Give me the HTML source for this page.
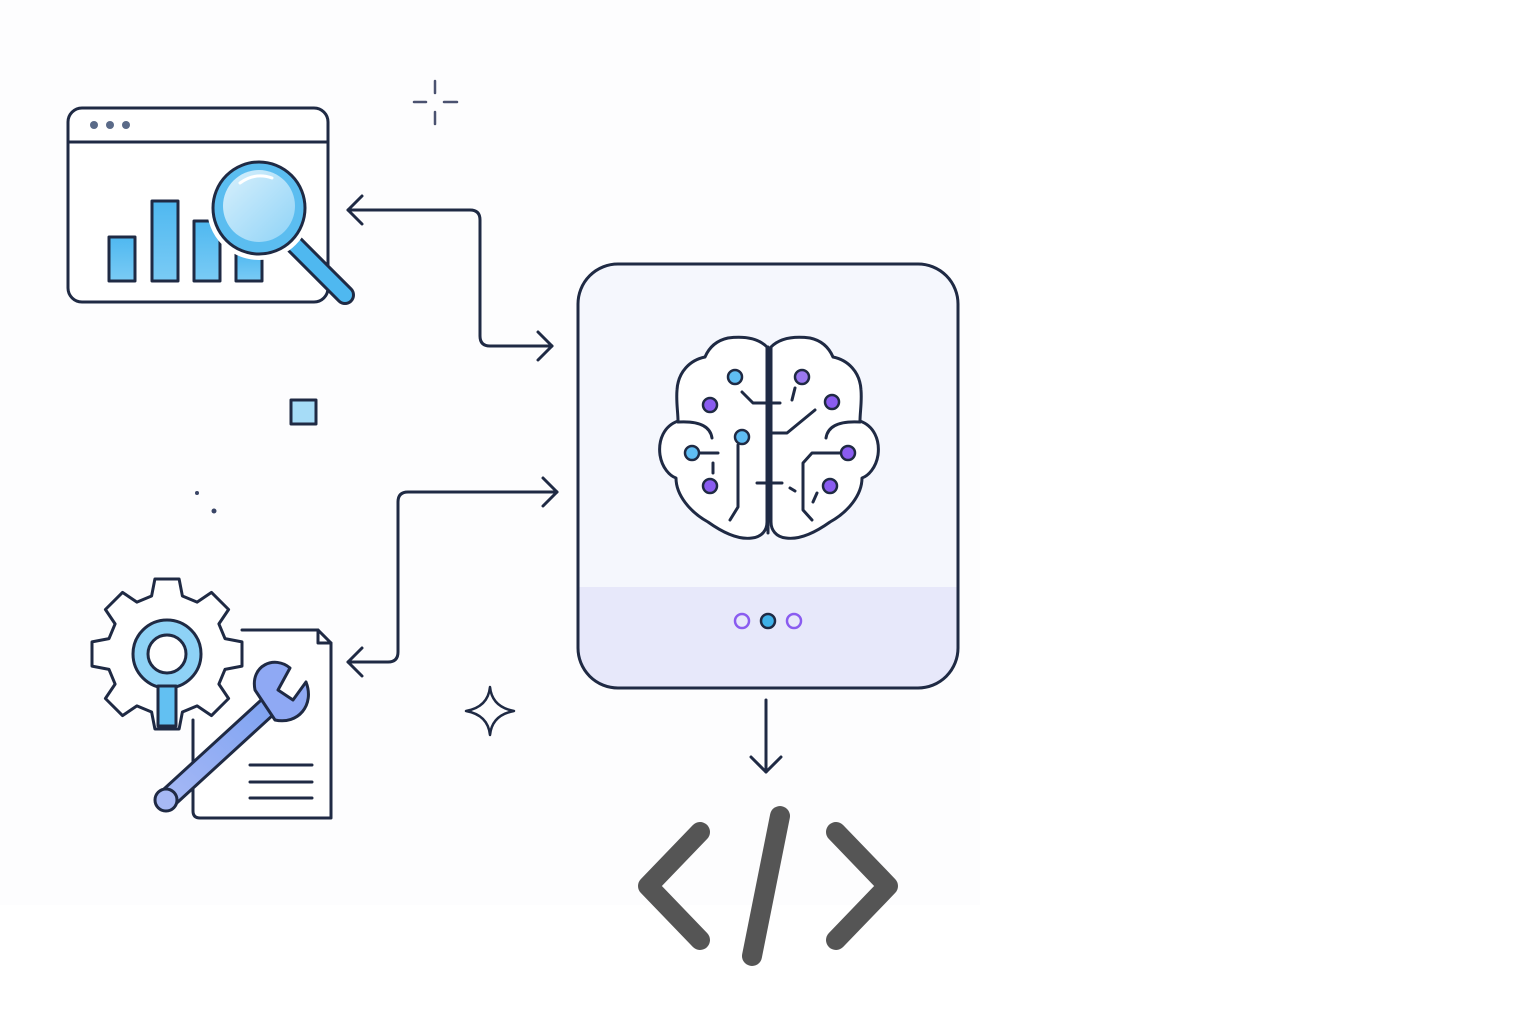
<!DOCTYPE html>
<html><head><meta charset="utf-8"><style>
html,body{margin:0;padding:0;background:#fff}
svg{display:block}
</style></head><body>
<svg width="1536" height="1024" viewBox="0 0 1536 1024" xmlns="http://www.w3.org/2000/svg">
<defs>
<linearGradient id="lens" x1="0" y1="0" x2="1" y2="1"><stop offset="0" stop-color="#d8f0fc"/><stop offset="1" stop-color="#8fd3f7"/></linearGradient>
<linearGradient id="bar" x1="0" y1="0" x2="0" y2="1"><stop offset="0" stop-color="#4fb8f0"/><stop offset="1" stop-color="#7acbf5"/></linearGradient>
<linearGradient id="wr" x1="0" y1="1" x2="1" y2="0"><stop offset="0" stop-color="#a5b8f5"/><stop offset="1" stop-color="#7fa3f2"/></linearGradient>
</defs>
<rect x="0" y="0" width="980" height="905" fill="#fdfdfe"/>
<g fill="none" stroke="#1f2a44" stroke-width="3" stroke-linecap="round" stroke-linejoin="round">
<rect x="68" y="108" width="260" height="194" rx="14" fill="#fff"/>
<line x1="68" y1="142" x2="328" y2="142"/>
<rect x="109" y="237" width="26" height="44" fill="url(#bar)"/>
<rect x="152" y="201" width="26" height="80" fill="url(#bar)"/>
<rect x="194" y="221" width="26" height="60" fill="url(#bar)"/>
<rect x="236" y="252" width="26" height="29" fill="url(#bar)"/>
<path d="M290 240 L345 295" stroke="#1f2a44" stroke-width="20"/>
<path d="M290 240 L345 295" stroke="#4fb8f0" stroke-width="14"/>
<circle cx="259" cy="208" r="48" fill="#fff" stroke="#fff" stroke-width="8"/>
<circle cx="259" cy="208" r="46" fill="#5bbdf0"/>
<circle cx="259" cy="206" r="36" fill="url(#lens)" stroke="none"/>
<path d="M240 183 Q255 172 272 178" stroke="#fff" stroke-width="3"/>
<rect x="578" y="264" width="380" height="424" rx="40" fill="#f5f7fd" stroke="none"/>
<path d="M578 587 H958 V648 A40 40 0 0 1 918 688 H618 A40 40 0 0 1 578 648 Z" fill="#e7e8fa" stroke="none"/>
<rect x="578" y="264" width="380" height="424" rx="40"/>
<circle cx="742" cy="621" r="7" stroke="#8a5cf0" stroke-width="2.5"/>
<circle cx="768" cy="621" r="7" fill="#3fb1e8" stroke="#1f2a44" stroke-width="2.5"/>
<circle cx="794" cy="621" r="7" stroke="#8a5cf0" stroke-width="2.5"/>
<g id="hemi">
<path d="M767 347 C758 338 744 336 728 338 C714 341 708 350 705 357 C690 360 678 372 677 390 C676 402 678 412 678 421 C664 426 658 440 660 455 C662 468 670 476 676 478 C676 495 690 512 708 522 C722 532 738 540 752 538 C762 537 767 530 767 522 Z" fill="#fff"/>
<path d="M678 422 C695 421 710 424 712 438"/>
</g>
<use href="#hemi" transform="translate(1538,0) scale(-1,1)"/>
<line x1="768" y1="347" x2="768" y2="533"/>
<path d="M742 392 L753 403 H780"/>
<path d="M738 445 V507 L730 520"/>
<path d="M700 453 H718"/>
<path d="M713 463 V473"/>
<path d="M757 483 H782"/><path d="M790 488 L795 491"/>
<path d="M795 388 L792 400"/>
<path d="M815 410 L787 433 H770"/>
<path d="M840 453 H812 L803 463 V510 L812 520"/>
<path d="M817 493 L813 502"/>
<g stroke-width="2.5">
<circle cx="735" cy="377" r="7" fill="#5fbdf3"/>
<circle cx="710" cy="405" r="7" fill="#8a5cf0"/>
<circle cx="742" cy="437" r="7" fill="#5fbdf3"/>
<circle cx="692" cy="453" r="7" fill="#5fbdf3"/>
<circle cx="710" cy="486" r="7" fill="#8a5cf0"/>
<circle cx="802" cy="377" r="7" fill="#9a78f0"/>
<circle cx="832" cy="402" r="7" fill="#8a5cf0"/>
<circle cx="848" cy="453" r="7" fill="#8a5cf0"/>
<circle cx="830" cy="486" r="7" fill="#8a5cf0"/>
</g>
<path d="M552 346 H490 Q480 346 480 336 V220 Q480 210 470 210 H348"/>
<path d="M538 332 L552 346 L538 360"/>
<path d="M362 196 L348 210 L362 224"/>
<path d="M557 492 H408 Q398 492 398 502 V652 Q398 662 388 662 H348"/>
<path d="M543 478 L557 492 L543 506"/>
<path d="M362 648 L348 662 L362 676"/>
<path d="M766 700 V772"/>
<path d="M751 757 L766 772 L781 757"/>
<path d="M242 630 H318 L331 643 V818 H200 Q193 818 193 811 V720" fill="#fff"/>
<path d="M318 630 V643 H331"/>
<line x1="250" y1="765" x2="312" y2="765"/><line x1="250" y1="782" x2="312" y2="782"/><line x1="250" y1="798" x2="312" y2="798"/>
<path id="gear" fill="#fff" d=""/>
<circle cx="167" cy="654" r="34" fill="#8ed2f6"/>
<circle cx="167" cy="654" r="19" fill="#fff"/>
<rect x="158" y="686" width="18" height="40" fill="#62c0f2"/>
<path d="M166 800 L272 703" stroke="#1f2a44" stroke-width="22"/>
<path d="M166 800 L272 703" stroke="url(#wr)" stroke-width="16"/>
<path d="M255 690 C250 665 275 655 290 668 L278 690 L293 700 L306 682 C315 705 298 725 275 720 Z" fill="#8fa9f4"/>
<circle cx="166" cy="800" r="11" fill="#a7b9f5"/>
<g stroke="#4a5270" stroke-width="2.5"><path d="M435 81 V93 M435 112 V124 M414 102 H426 M444 102 H457"/></g>
<rect x="291" y="400" width="25" height="24" fill="#a6dcf7" stroke-width="3"/>
<path d="M490 687 Q492 707 514 711 Q492 715 490 735 Q488 715 466 711 Q488 707 490 687 Z" stroke-width="2.5"/>
</g>
<circle cx="94" cy="125" r="4" fill="#5a6a88"/><circle cx="110" cy="125" r="4" fill="#5a6a88"/><circle cx="126" cy="125" r="4" fill="#5a6a88"/>
<circle cx="197" cy="493" r="2" fill="#3a4566"/><circle cx="214" cy="511" r="2.5" fill="#3a4566"/>
<g fill="none" stroke="#555" stroke-width="20" stroke-linecap="round" stroke-linejoin="round">
<path d="M700 832 L648 886 L700 940"/>
<path d="M780 816 L752 956"/>
<path d="M836 832 L888 886 L836 940"/>
</g>
</svg>
<script>
(function(){var cx=167,cy=654,ro=76,ri=60,n=8,d="";
for(var i=0;i<n;i++){var t=i*Math.PI*2/n-Math.PI/2;var a=[[t-0.26,ri],[t-0.16,ro],[t+0.16,ro],[t+0.26,ri]];
for(var j=0;j<4;j++){var x=cx+a[j][1]*Math.cos(a[j][0]),y=cy+a[j][1]*Math.sin(a[j][0]);d+=(i==0&&j==0?"M":"L")+x.toFixed(1)+" "+y.toFixed(1)+" ";}}
document.getElementById("gear").setAttribute("d",d+"Z");})();
</script>
</body></html>
